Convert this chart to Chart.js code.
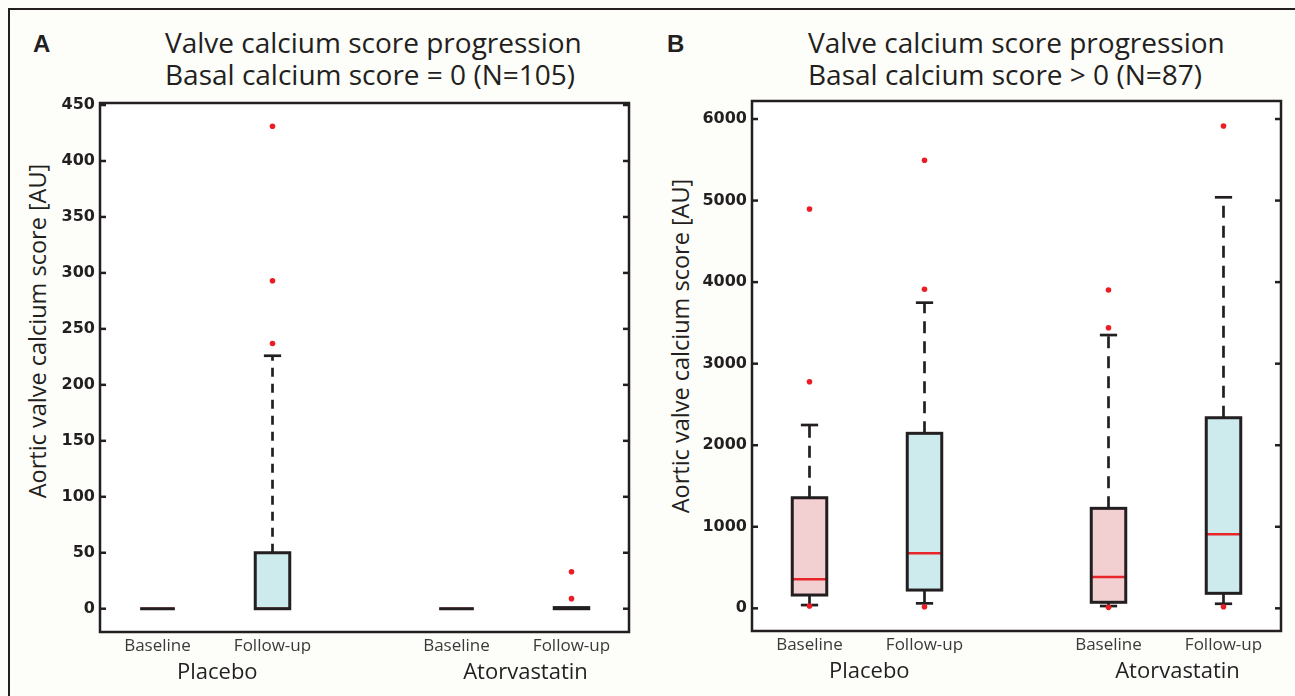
<!DOCTYPE html>
<html>
<head>
<meta charset="utf-8">
<script src="https://cdn.jsdelivr.net/npm/chart.js@4.4.0/dist/chart.umd.min.js"></script>
<style>
  html, body { margin:0; padding:0; width:1295px; height:696px; overflow:hidden; background:#fdfdfa; font-family:"Open Sans", sans-serif; color:#231f20; }
  .frame { position:absolute; left:8px; top:8px; width:1400px; height:800px; border-left:2px solid #231f20; border-top:2px solid #231f20; }
  .letter { position:absolute; top:32px; font:bold 24px "Liberation Sans", Arial, sans-serif; line-height:24px; }
  .title { position:absolute; top:26px; font-size:28px; line-height:32px; white-space:nowrap; }
  .ylabel { position:absolute; font-size:23.5px; line-height:1; white-space:nowrap; transform:translate(-50%,-50%) rotate(-90deg); }
  canvas { position:absolute; top:0; }
</style>
</head>
<body>
<div class="frame"></div>

<div class="letter" style="left:33px">A</div>
<div class="title" style="left:165px">Valve calcium score progression<br>Basal calcium score = 0 (N=105)</div>
<div class="ylabel" style="left:38px;top:331px">Aortic valve calcium score [AU]</div>
<canvas id="chartA" width="652" height="696" style="left:0"></canvas>

<div class="letter" style="left:667px">B</div>
<div class="title" style="left:808px">Valve calcium score progression<br>Basal calcium score &gt; 0 (N=87)</div>
<div class="ylabel" style="left:681px;top:346px">Aortic valve calcium score [AU]</div>
<canvas id="chartB" width="643" height="696" style="left:652px"></canvas>

<script>
// ── shared layout of the x axis ───────────────────────────
const positions = [1, 2, 3.6, 4.6];
const visits = ["Baseline", "Follow-up", "Baseline", "Follow-up"];
const groups = ["Placebo", "Atorvastatin"];
const groupPositions = [1.52, 4.2];
const fills = ["#f2cfd0", "#cdeaed", "#f2cfd0", "#cdeaed"];

// ── A : basal calcium score = 0 ───────────────────────────
const ticksA = [0, 50, 100, 150, 200, 250, 300, 350, 400, 450];
const lowA  = [0, 0, 0, 0];
const q1A   = [0, 0, 0, 0];
const medA  = [0, 0, 0, 0];
const q3A   = [0, 50, 0, 1];
const highA = [0, 226, 0, 1];
const outA  = [[], [431, 293, 237], [], [33, 9]];

// ── B : basal calcium score > 0 ───────────────────────────
const ticksB = [0, 1000, 2000, 3000, 4000, 5000, 6000];
const lowB  = [40, 61, 28, 56];
const q1B   = [163, 224, 74, 184];
const medB  = [356, 674, 384, 907];
const q3B   = [1356, 2146, 1226, 2337];
const highB = [2248, 3748, 3351, 5040];
const outB  = [[4897, 2779, 28], [5494, 3912, 20], [3903, 3441, 12], [5914, 20]];

const INK = "#231f20";
const BOX_W = 0.3, CAP_W = 0.15;

function line(ctx, x1, y1, x2, y2) {
  ctx.beginPath(); ctx.moveTo(x1, y1); ctx.lineTo(x2, y2); ctx.stroke();
}

function boxPlugin(s, dash) {
  return {
    id: "boxes",
    beforeDraw(chart) {
      const { ctx, chartArea: a } = chart;
      ctx.save();
      ctx.fillStyle = "#fff";
      ctx.fillRect(a.left, a.top, a.width, a.height);
      ctx.restore();
    },
    beforeDatasetsDraw(chart) {
      const { ctx, scales: { x, y } } = chart;
      ctx.save();
      positions.forEach((p, i) => {
        const xc = x.getPixelForValue(p);
        const w = x.getPixelForValue(p + BOX_W / 2) - xc;
        const cw = x.getPixelForValue(p + CAP_W / 2) - xc;
        const yLo = y.getPixelForValue(s.low[i]), yQ1 = y.getPixelForValue(s.q1[i]);
        const yMed = y.getPixelForValue(s.med[i]), yQ3 = y.getPixelForValue(s.q3[i]);
        const yHi = y.getPixelForValue(s.high[i]);

        // whiskers + caps
        ctx.strokeStyle = INK;
        ctx.lineWidth = 2.7;
        ctx.setLineDash(dash);
        if (s.high[i] > s.q3[i]) line(ctx, xc, yQ3, xc, yHi);
        if (s.low[i] < s.q1[i]) line(ctx, xc, yQ1, xc, yLo);
        ctx.setLineDash([]);
        if (s.high[i] > s.q3[i]) line(ctx, xc - cw, yHi, xc + cw, yHi);
        if (s.low[i] < s.q1[i]) line(ctx, xc - cw, yLo, xc + cw, yLo);

        // box, median, outline
        ctx.fillStyle = fills[i];
        ctx.fillRect(xc - w, yQ3, 2 * w, yQ1 - yQ3);
        ctx.strokeStyle = "#e8262a";
        ctx.lineWidth = 2.5;
        line(ctx, xc - w, yMed, xc + w, yMed);
        ctx.strokeStyle = INK;
        ctx.lineWidth = 3;
        ctx.strokeRect(xc - w, yQ3, 2 * w, yQ1 - yQ3);
      });
      ctx.restore();
    },
    afterDraw(chart) {
      const { ctx, chartArea: a, scales: { y } } = chart;
      ctx.save();
      ctx.strokeStyle = INK;
      ctx.lineWidth = 2.5;
      ctx.strokeRect(a.left, a.top, a.width, a.height);
      y.ticks.forEach(t => {
        const py = y.getPixelForValue(t.value);
        line(ctx, a.left, py, a.left + 6, py);
        line(ctx, a.right - 6, py, a.right, py);
      });
      ctx.restore();
    },
  };
}

function makeChart(id, s, yTicks, yMin, yMax, padTop, padRight, x2Height, dash) {
  const outliers = [];
  positions.forEach((p, i) => s.out[i].forEach(v => outliers.push({ x: p, y: v })));

  return new Chart(document.getElementById(id), {
    type: "scatter",
    data: {
      datasets: [{
        data: outliers,
        pointRadius: 2.8,
        pointBackgroundColor: "#ec1c24",
        pointBorderWidth: 0,
      }],
    },
    options: {
      responsive: false,
      animation: false,
      events: [],
      layout: { padding: { left: 0, top: padTop, right: padRight, bottom: 0 } },
      plugins: { legend: { display: false }, tooltip: { enabled: false } },
      scales: {
        x: {
          type: "linear", position: "bottom", min: 0.5, max: 5.1,
          afterBuildTicks: sc => { sc.ticks = positions.map(v => ({ value: v })); },
          afterFit: sc => { sc.height = 22; },
          grid: { display: false, drawTicks: false }, border: { display: false },
          ticks: { autoSkip: false, maxRotation: 0, padding: 4, color: "#3a3a3a",
                   font: { family: "Open Sans", size: 17 }, callback: (v, i) => visits[i] },
        },
        x2: {
          type: "linear", position: "bottom", min: 0.5, max: 5.1,
          afterBuildTicks: sc => { sc.ticks = groupPositions.map(v => ({ value: v })); },
          afterFit: sc => { sc.height = x2Height; },
          grid: { display: false, drawTicks: false }, border: { display: false },
          ticks: { autoSkip: false, maxRotation: 0, padding: 6, color: INK,
                   font: { family: "Open Sans", size: 22 }, callback: (v, i) => groups[i] },
        },
        y: {
          min: yMin, max: yMax,
          afterBuildTicks: sc => { sc.ticks = yTicks.map(v => ({ value: v })); },
          afterFit: sc => { sc.width = 100; },
          grid: { display: false, drawTicks: false }, border: { display: false },
          ticks: { padding: 5, color: INK, font: { family: "DejaVu Sans", weight: "bold", size: 16 },
                   callback: v => String(v) },
        },
      },
    },
    plugins: [boxPlugin(s, dash)],
  });
}

makeChart("chartA", { low: lowA, q1: q1A, med: medA, q3: q3A, high: highA, out: outA },
  ticksA, -20.8, 451.8, 103, 23, 42, [9, 7]);
makeChart("chartB", { low: lowB, q1: q1B, med: medB, q3: q3B, high: highB, out: outB },
  ticksB, -278, 6221, 101, 14, 43, [12, 8]);
</script>
</body>
</html>
